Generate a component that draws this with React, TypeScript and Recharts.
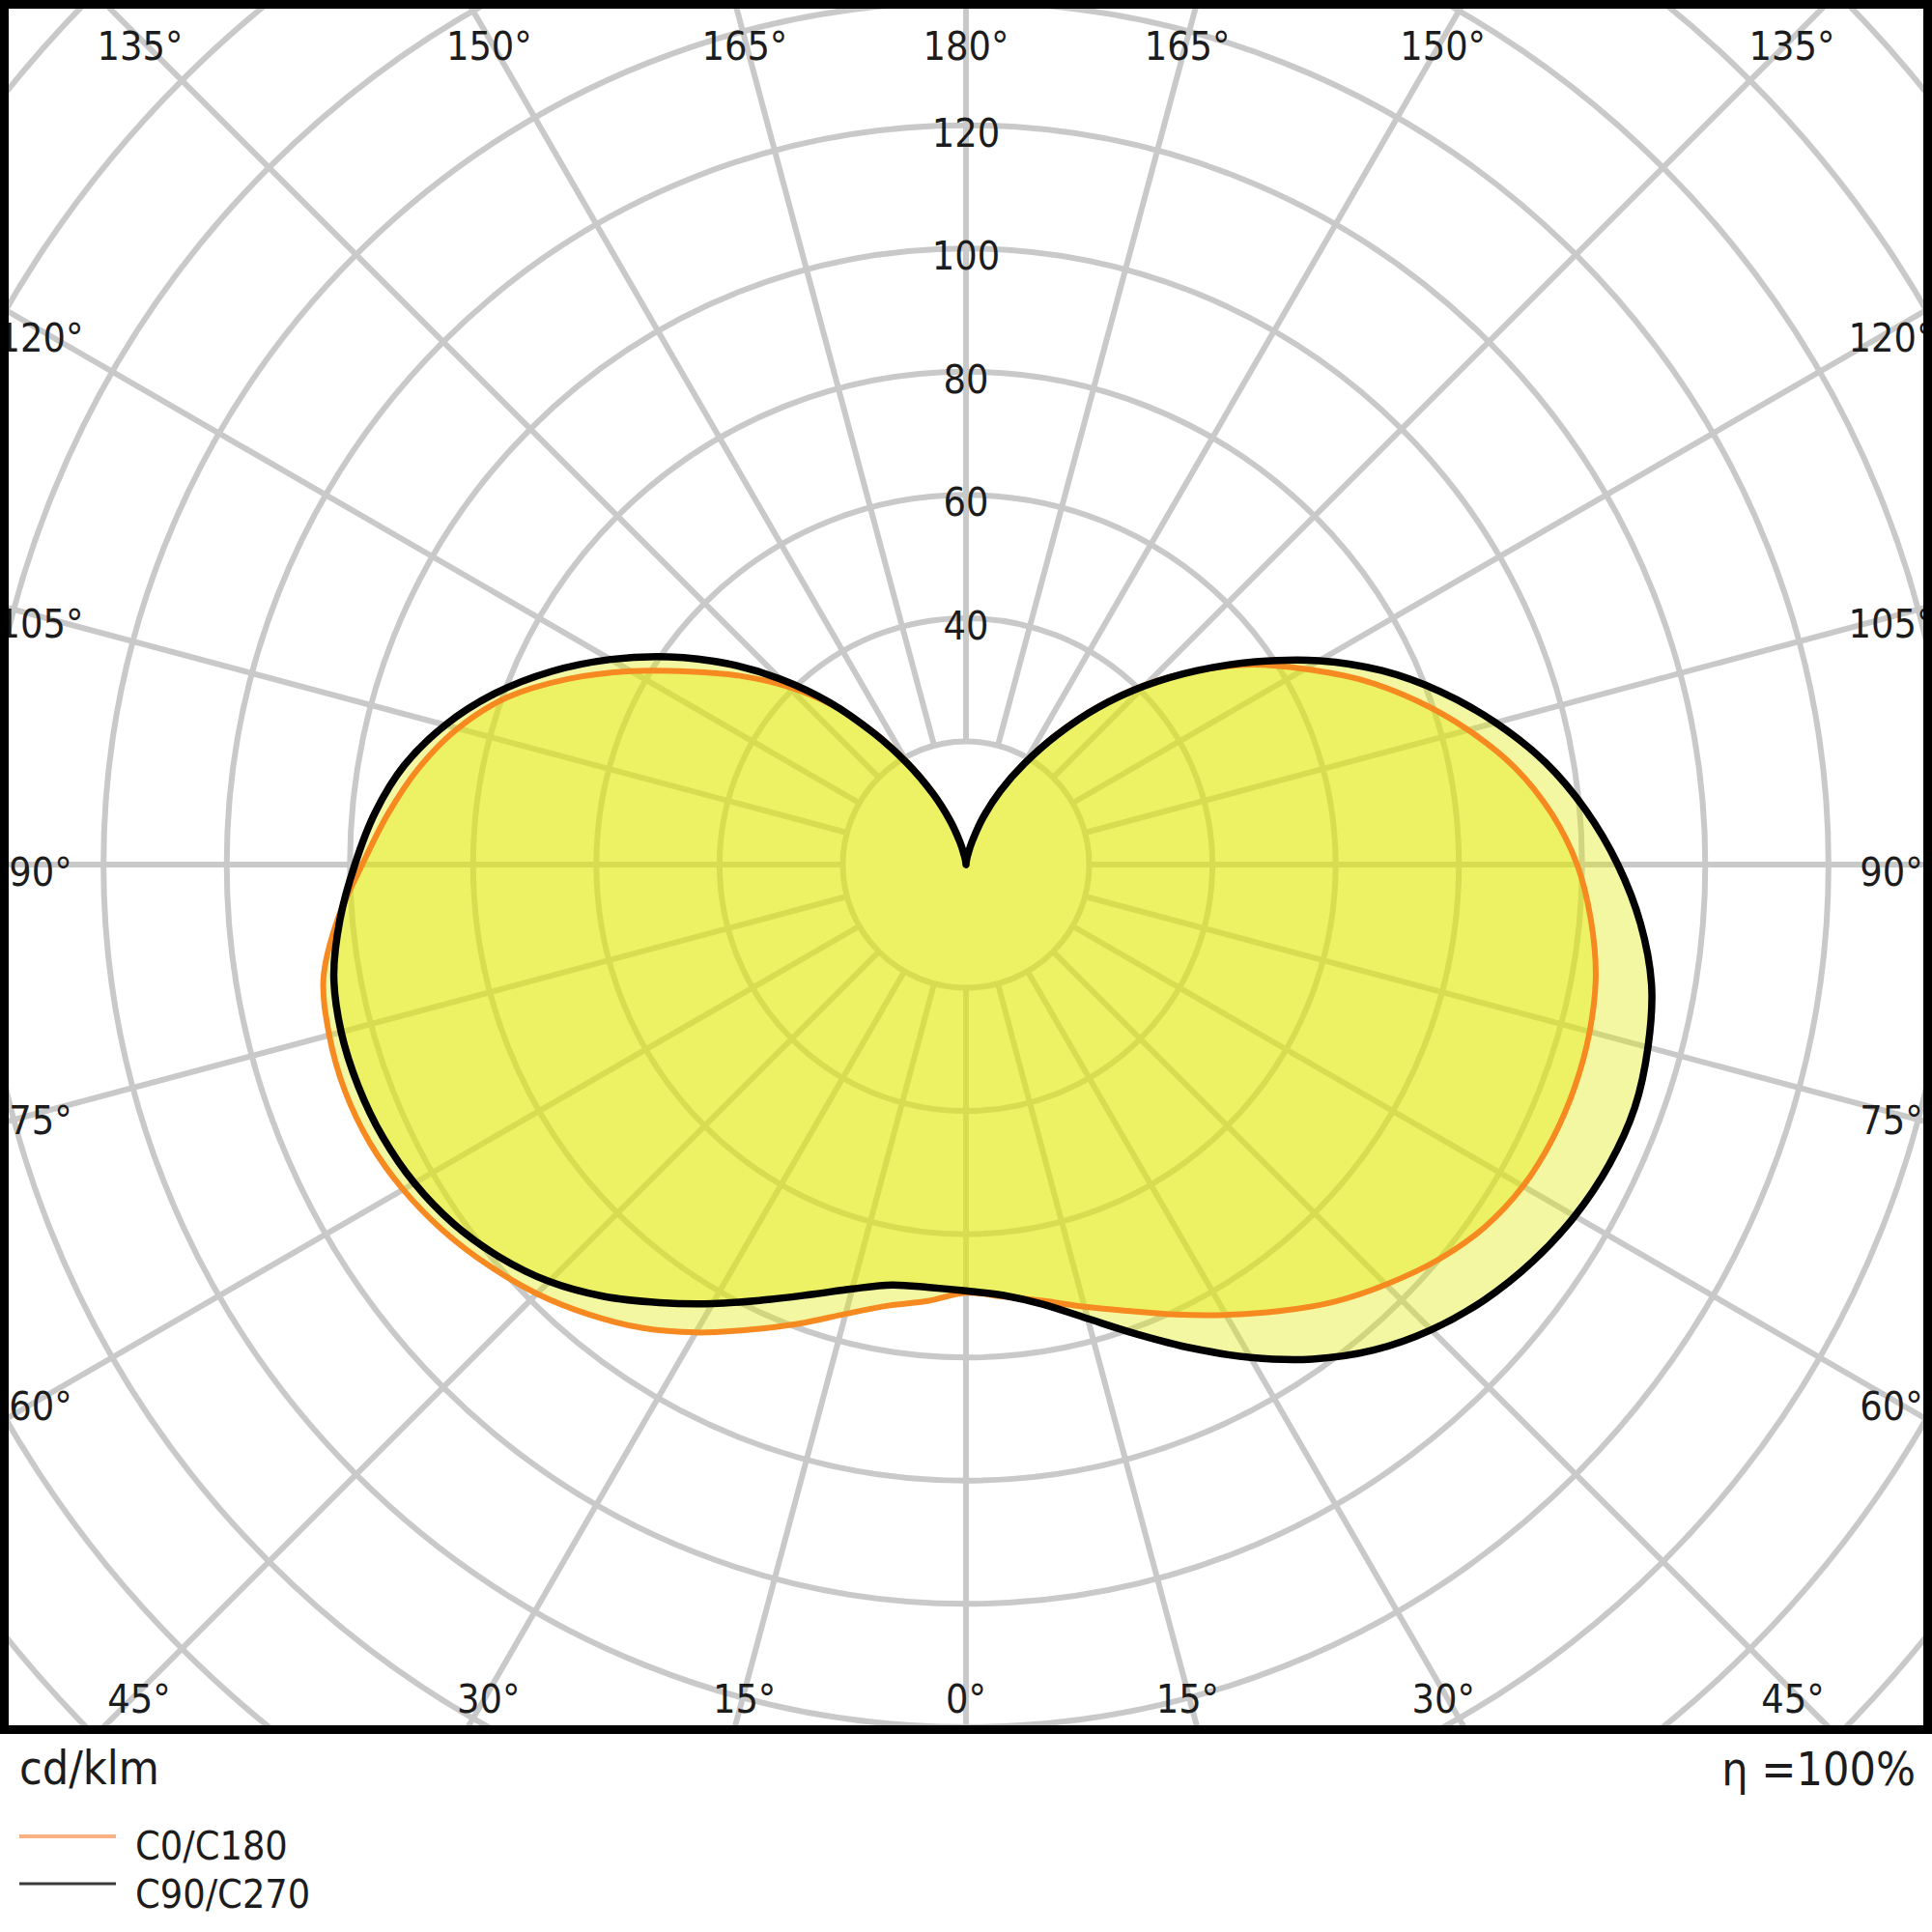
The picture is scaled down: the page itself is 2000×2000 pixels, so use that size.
import React from 'react';
import { RadarChart, Radar, PolarGrid, PolarAngleAxis, PolarRadiusAxis } from 'recharts';

// gamma angles (deg from nadir) for each half plane
const GAMMA = [0, 5, 10, 15, 20, 25, 30, 35, 40, 45, 50, 55, 60, 65, 70, 75, 80, 85, 90,
  95, 100, 105, 110, 115, 120, 125, 130, 135, 140, 145, 150, 155, 160, 165, 170, 175, 180];

// C0 plane (orange, right half) cd/klm
const C0 = [69.5, 70.4, 71.9, 74.3, 77.1, 80.6, 84.4, 88.5, 92.7, 96.4, 99.9, 102.7, 104.4, 105.1, 105.2, 104.8, 103.8, 101.8, 99.2,
  95.4, 90.5, 84.4, 77.8, 70.9, 63.5, 56.6, 48.9, 41.3, 33.5, 25.9, 19.2, 13.5, 8.5, 4.2, 1.6, 0.5, 0];
// C180 plane (orange, left half)
const C180 = [69.5, 71.1, 72.7, 75.5, 79.3, 83.3, 87.7, 91.8, 95.3, 98.5, 101.2, 103.6, 105.5, 106.8, 107.3, 107.0, 105.9, 102.4, 98.0,
  94.2, 90.2, 85.4, 79.3, 71.3, 62.8, 54.6, 47.6, 40.8, 33.8, 26.4, 19.3, 13.1, 8.0, 4.0, 1.4, 0.3, 0];
// C90 plane (black, right half)
const C90 = [69.2, 70.2, 72.5, 76.3, 81.1, 86.6, 92.4, 98.0, 102.9, 106.8, 109.9, 112.3, 114.1, 115.2, 115.5, 114.6, 113.0, 109.9, 105.8,
  101.0, 95.5, 89.0, 82.0, 74.5, 66.2, 57.4, 49.0, 41.0, 33.2, 25.6, 18.9, 13.2, 8.2, 4.0, 1.5, 0.4, 0];
// C270 plane (black, left half)
const C270 = [69.2, 68.9, 69.3, 71.3, 74.3, 78.0, 82.3, 86.8, 91.5, 95.7, 99.0, 101.6, 103.4, 104.5, 105.0, 105.0, 104.2, 102.0, 99.2,
  96.3, 92.6, 87.5, 81.3, 74.2, 66.6, 58.8, 50.8, 42.6, 34.3, 26.0, 18.8, 12.7, 7.7, 3.8, 1.3, 0.3, 0];

const RADIUS_DOMAIN_MAX = 200;
const RADIUS_LABELS = [40, 60, 80, 100, 120];
const ANGLE_TICKS = [0, 15, 30, 45, 60, 75, 90, 105, 120, 135, 150, 165, 180, 195, 210, 225, 240, 255, 270, 285, 300, 315, 330, 345];
const LEGEND_NAMES = ['C0/C180', 'C90/C270'];
const UNIT_LABEL = 'cd/klm';
const EFFICIENCY_LABEL = 'η =100%';

// build the full 360° table: right half = C0/C90, left half = C180/C270
const rows: { a: number; orange: number; black: number }[] = [];
GAMMA.forEach((g, i) => rows.push({ a: g, orange: C0[i], black: C90[i] }));
for (let i = GAMMA.length - 2; i >= 1; i--) {
  rows.push({ a: 360 - GAMMA[i], orange: C180[i], black: C270[i] });
}

const FONT = "'DejaVu Sans Condensed', 'DejaVu Sans', sans-serif";
const W = 2000;
const FRAME_H = 1795;
const CX = 1000;
const CY = 895;
const OUTER = 1275.5;
const INNER_LINE_START = OUTER * 20 / RADIUS_DOMAIN_MAX;
const LBL = { left: 42, right: 1958, top: 40, bottom: 1751 };
const GRID = '#c9c9c9';
const TEXT = '#1c1c1c';

function smoothClosed(points: { x: number; y: number }[]) {
  const n = points.length;
  if (!n) return '';
  let d = `M${points[0].x},${points[0].y}`;
  for (let i = 0; i < n; i++) {
    const p0 = points[(i - 1 + n) % n];
    const p1 = points[i];
    const p2 = points[(i + 1) % n];
    const p3 = points[(i + 2) % n];
    const c1x = p1.x + (p2.x - p0.x) / 6;
    const c1y = p1.y + (p2.y - p0.y) / 6;
    const c2x = p2.x - (p3.x - p1.x) / 6;
    const c2y = p2.y - (p3.y - p1.y) / 6;
    d += ` C${c1x},${c1y} ${c2x},${c2y} ${p2.x},${p2.y}`;
  }
  return d + ' Z';
}

const emptyShape = () => <g />;
const fillShape = (props: any) => (
  <path d={smoothClosed(props.points || [])} fill="#e2e800" fillOpacity={0.37} stroke="none" />
);
const strokeShape = (color: string, width: number) => (props: any) => (
  <path d={smoothClosed(props.points || [])} fill="none" stroke={color} strokeWidth={width} strokeLinejoin="round" />
);

const AngleTick = (props: any) => {
  const { payload } = props;
  const value = Number(payload?.value);
  const ang = (Number(payload?.coordinate) * Math.PI) / 180;
  const ux = Math.cos(ang);
  const uy = -Math.sin(ang);
  const tx = ux > 1e-6 ? (LBL.right - CX) / ux : ux < -1e-6 ? (LBL.left - CX) / ux : Infinity;
  const ty = uy > 1e-6 ? (LBL.bottom - CY) / uy : uy < -1e-6 ? (LBL.top - CY) / uy : Infinity;
  const t = Math.min(tx, ty);
  const label = value <= 180 ? value : 360 - value;
  return (
    <text x={CX + ux * t} y={CY + uy * t + 8} textAnchor="middle" dominantBaseline="central"
      fontSize={41} fontFamily={FONT} fill={TEXT}>{`${label}°`}</text>
  );
};

const RadiusTick = (props: any) => {
  const { x, y, payload } = props;
  const v = Number(payload?.value);
  if (!RADIUS_LABELS.includes(v)) return <g />;
  return (
    <text x={x} y={y + 8} textAnchor="middle" dominantBaseline="central"
      fontSize={41} fontFamily={FONT} fill={TEXT}>{v}</text>
  );
};

const chartProps = {
  width: W, height: FRAME_H, data: rows, cx: CX, cy: CY, innerRadius: 0, outerRadius: OUTER,
  startAngle: -90, endAngle: 270, margin: { top: 0, right: 0, bottom: 0, left: 0 },
};

export default function App() {
  return (
    <div style={{ position: 'absolute', left: 0, top: 0, width: W, height: 2000, background: '#fff', fontFamily: FONT }}>
      {/* grid layer */}
      <div style={{ position: 'absolute', left: 0, top: 0, width: W, height: FRAME_H, overflow: 'hidden' }}>
        <RadarChart {...chartProps}>
          <PolarGrid gridType="circle" radialLines={false} stroke={GRID} strokeWidth={6} />
          <PolarAngleAxis dataKey="a" type="number" domain={[0, 360]} ticks={ANGLE_TICKS}
            axisLine={false} orientation="inner" tickSize={OUTER - INNER_LINE_START}
            stroke={GRID} tickLine={{ stroke: GRID, strokeWidth: 6 }} tick={AngleTick} />
          <PolarRadiusAxis type="number" domain={[0, RADIUS_DOMAIN_MAX]} tickCount={11} angle={90}
            axisLine={false} tick={RadiusTick} />
          <Radar dataKey="black" isAnimationActive={false} dot={false} legendType="none" shape={emptyShape} />
        </RadarChart>
      </div>
      {/* curve layer */}
      <div style={{ position: 'absolute', left: 0, top: 0, width: W, height: FRAME_H, overflow: 'hidden' }}>
        <RadarChart {...chartProps}>
          <PolarAngleAxis dataKey="a" type="number" domain={[0, 360]} ticks={ANGLE_TICKS}
            axisLine={false} tickLine={false} tick={false} />
          <PolarRadiusAxis type="number" domain={[0, RADIUS_DOMAIN_MAX]} tickCount={11} angle={90}
            axisLine={false} tick={false} />
          <Radar name="C0/C180 fill" dataKey="orange" isAnimationActive={false} dot={false} legendType="none" shape={fillShape} />
          <Radar name="C90/C270 fill" dataKey="black" isAnimationActive={false} dot={false} legendType="none" shape={fillShape} />
          <Radar name="C0/C180" dataKey="orange" isAnimationActive={false} dot={false} shape={strokeShape('#f6891f', 6)} />
          <Radar name="C90/C270" dataKey="black" isAnimationActive={false} dot={false} shape={strokeShape('#000000', 7.5)} />
        </RadarChart>
      </div>
      <div style={{ position: 'absolute', left: 0, top: 0, width: W, height: FRAME_H, boxSizing: 'border-box',
        border: '9px solid #000', pointerEvents: 'none' }} />
      <svg width={W} height={205} style={{ position: 'absolute', left: 0, top: FRAME_H }}>
        <text x={20} y={52} fontSize={48} fontFamily={FONT} fill={TEXT}>{UNIT_LABEL}</text>
        <text x={1983} y={53} fontSize={48} fontFamily={FONT} fill={TEXT} textAnchor="end">{EFFICIENCY_LABEL}</text>
        <line x1={20} x2={120} y1={106} y2={106} stroke="#f9b183" strokeWidth={4} />
        <line x1={20} x2={120} y1={155} y2={155} stroke="#3a3a3a" strokeWidth={3} />
        <text x={140} y={130} fontSize={41} fontFamily={FONT} fill={TEXT}>{LEGEND_NAMES[0]}</text>
        <text x={140} y={180} fontSize={41} fontFamily={FONT} fill={TEXT}>{LEGEND_NAMES[1]}</text>
      </svg>
    </div>
  );
}
